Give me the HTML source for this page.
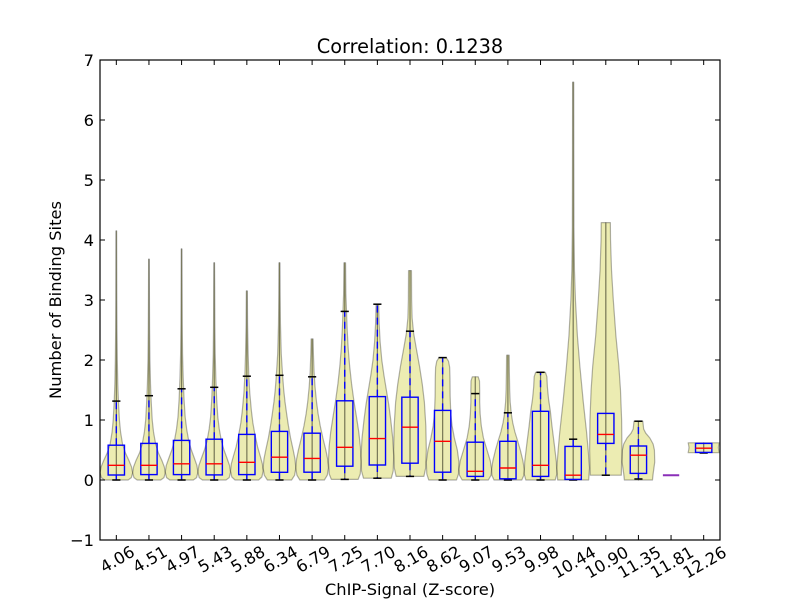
<!DOCTYPE html>
<html><head><meta charset="utf-8"><style>
html,body{margin:0;padding:0;background:#fff;}
svg{display:block;}
.v path{vector-effect:non-scaling-stroke;}
text{font-family:"DejaVu Sans","Liberation Sans",sans-serif;fill:#000;}
</style></head><body>
<svg width="800" height="600" viewBox="0 0 800 600" xmlns="http://www.w3.org/2000/svg">
<rect x="0" y="0" width="800" height="600" fill="#fff"/>

<!-- violins -->
<g class="v" fill="rgba(191,191,0,0.3)" stroke="rgba(0,0,0,0.3)" stroke-width="1.2" stroke-linejoin="round">
<path transform="translate(116.32,480) scale(16.32,-60)" d="M0,0 L.72,0 .92,.04 1,.12 .93,.22 .78,.32 .56,.45 .38,.6 .26,.8 .19,1 .13,1.3 .09,1.6 .06,2 .04,2.5 .03,3 .025,3.6 .02,4.15 0,4.15Z"/>
<path transform="translate(116.32,480) scale(-16.32,-60)" d="M0,0 L.72,0 .92,.04 1,.12 .93,.22 .78,.32 .56,.45 .38,.6 .26,.8 .19,1 .13,1.3 .09,1.6 .06,2 .04,2.5 .03,3 .025,3.6 .02,4.15 0,4.15Z"/>

<path transform="translate(148.95,480) scale(16.32,-60)" d="M0,0 L.72,0 .92,.04 1,.12 .94,.22 .8,.32 .58,.45 .41,.6 .28,.8 .2,1 .14,1.3 .095,1.6 .06,2 .04,2.5 .03,3 .02,3.68 0,3.68Z"/>
<path transform="translate(148.95,480) scale(-16.32,-60)" d="M0,0 L.72,0 .92,.04 1,.12 .94,.22 .8,.32 .58,.45 .41,.6 .28,.8 .2,1 .14,1.3 .095,1.6 .06,2 .04,2.5 .03,3 .02,3.68 0,3.68Z"/>

<path transform="translate(181.58,480) scale(16.32,-60)" d="M0,0 L.72,0 .92,.04 1,.13 .94,.24 .8,.35 .6,.5 .44,.65 .31,.85 .22,1.05 .15,1.35 .1,1.7 .06,2.1 .04,2.6 .03,3.2 .02,3.85 0,3.85Z"/>
<path transform="translate(181.58,480) scale(-16.32,-60)" d="M0,0 L.72,0 .92,.04 1,.13 .94,.24 .8,.35 .6,.5 .44,.65 .31,.85 .22,1.05 .15,1.35 .1,1.7 .06,2.1 .04,2.6 .03,3.2 .02,3.85 0,3.85Z"/>

<path transform="translate(214.21,480) scale(16.32,-60)" d="M0,0 L.72,0 .92,.04 1,.13 .94,.24 .8,.35 .6,.5 .44,.65 .31,.85 .22,1.05 .15,1.35 .1,1.7 .06,2.1 .04,2.6 .03,3.2 .02,3.62 0,3.62Z"/>
<path transform="translate(214.21,480) scale(-16.32,-60)" d="M0,0 L.72,0 .92,.04 1,.13 .94,.24 .8,.35 .6,.5 .44,.65 .31,.85 .22,1.05 .15,1.35 .1,1.7 .06,2.1 .04,2.6 .03,3.2 .02,3.62 0,3.62Z"/>

<path transform="translate(246.84,480) scale(16.32,-60)" d="M0,0 L.72,0 .92,.05 1,.15 .95,.27 .82,.4 .66,.55 .5,.75 .37,.95 .28,1.15 .18,1.45 .12,1.75 .08,2.1 .045,2.6 .03,3.15 0,3.15Z"/>
<path transform="translate(246.84,480) scale(-16.32,-60)" d="M0,0 L.72,0 .92,.05 1,.15 .95,.27 .82,.4 .66,.55 .5,.75 .37,.95 .28,1.15 .18,1.45 .12,1.75 .08,2.1 .045,2.6 .03,3.15 0,3.15Z"/>

<path transform="translate(279.47,480) scale(16.32,-60)" d="M0,0 L.74,0 .93,.08 1,.2 .95,.35 .84,.5 .68,.7 .55,.9 .44,1.1 .34,1.3 .26,1.5 .19,1.75 .11,2.1 .06,2.6 .04,3.1 .03,3.62 0,3.62Z"/>
<path transform="translate(279.47,480) scale(-16.32,-60)" d="M0,0 L.74,0 .93,.08 1,.2 .95,.35 .84,.5 .68,.7 .55,.9 .44,1.1 .34,1.3 .26,1.5 .19,1.75 .11,2.1 .06,2.6 .04,3.1 .03,3.62 0,3.62Z"/>

<path transform="translate(312.11,480) scale(16.32,-60)" d="M0,0 L.75,0 .93,.08 1,.2 .95,.35 .84,.5 .66,.7 .5,.9 .37,1.1 .27,1.3 .18,1.55 .12,1.8 .08,2.1 .06,2.35 0,2.35Z"/>
<path transform="translate(312.11,480) scale(-16.32,-60)" d="M0,0 L.75,0 .93,.08 1,.2 .95,.35 .84,.5 .66,.7 .5,.9 .37,1.1 .27,1.3 .18,1.55 .12,1.8 .08,2.1 .06,2.35 0,2.35Z"/>

<path transform="translate(344.74,480) scale(16.32,-60)" d="M0,.01 L.82,.01 .95,.1 1,.3 .96,.55 .86,.8 .72,1.05 .57,1.3 .42,1.6 .3,1.9 .21,2.2 .15,2.5 .11,2.8 .07,3.1 .05,3.62 0,3.62Z"/>
<path transform="translate(344.74,480) scale(-16.32,-60)" d="M0,.01 L.82,.01 .95,.1 1,.3 .96,.55 .86,.8 .72,1.05 .57,1.3 .42,1.6 .3,1.9 .21,2.2 .15,2.5 .11,2.8 .07,3.1 .05,3.62 0,3.62Z"/>

<path transform="translate(377.37,480) scale(16.32,-60)" d="M0,.03 L.85,.03 .97,.15 1,.4 .94,.7 .82,1 .7,1.25 .55,1.5 .4,1.75 .27,2 .17,2.3 .11,2.6 .08,2.93 0,2.93Z"/>
<path transform="translate(377.37,480) scale(-16.32,-60)" d="M0,.03 L.85,.03 .97,.15 1,.4 .94,.7 .82,1 .7,1.25 .55,1.5 .4,1.75 .27,2 .17,2.3 .11,2.6 .08,2.93 0,2.93Z"/>

<path transform="translate(410,480) scale(16.32,-60)" d="M0,.06 L.85,.06 .96,.2 1,.5 .97,.9 .88,1.3 .75,1.6 .58,1.9 .38,2.2 .22,2.45 .13,2.7 .1,3 .09,3.49 0,3.49Z"/>
<path transform="translate(410,480) scale(-16.32,-60)" d="M0,.06 L.85,.06 .96,.2 1,.5 .97,.9 .88,1.3 .75,1.6 .58,1.9 .38,2.2 .22,2.45 .13,2.7 .1,3 .09,3.49 0,3.49Z"/>

<path transform="translate(442.63,480) scale(16.32,-60)" d="M0,0 L.85,0 .97,.1 1,.3 .9,.5 .72,.7 .58,.9 .5,1.1 .46,1.4 .45,1.7 .43,1.88 .36,1.98 .22,2.04 0,2.04Z"/>
<path transform="translate(442.63,480) scale(-16.32,-60)" d="M0,0 L.85,0 .97,.1 1,.3 .9,.5 .72,.7 .58,.9 .5,1.1 .46,1.4 .45,1.7 .43,1.88 .36,1.98 .22,2.04 0,2.04Z"/>

<path transform="translate(475.26,480) scale(16.32,-60)" d="M0,0 L.8,0 .97,.08 1,.18 .92,.32 .72,.5 .5,.7 .37,.9 .3,1.1 .27,1.3 .27,1.5 .26,1.65 .18,1.72 0,1.72Z"/>
<path transform="translate(475.26,480) scale(-16.32,-60)" d="M0,0 L.8,0 .97,.08 1,.18 .92,.32 .72,.5 .5,.7 .37,.9 .3,1.1 .27,1.3 .27,1.5 .26,1.65 .18,1.72 0,1.72Z"/>

<path transform="translate(507.89,480) scale(16.32,-60)" d="M0,0 L.85,0 .98,.08 1,.18 .92,.32 .76,.5 .6,.65 .43,.8 .3,.95 .21,1.1 .14,1.3 .11,1.5 .09,1.8 .08,2.08 0,2.08Z"/>
<path transform="translate(507.89,480) scale(-16.32,-60)" d="M0,0 L.85,0 .98,.08 1,.18 .92,.32 .76,.5 .6,.65 .43,.8 .3,.95 .21,1.1 .14,1.3 .11,1.5 .09,1.8 .08,2.08 0,2.08Z"/>

<path transform="translate(540.53,480) scale(16.32,-60)" d="M0,0 L.9,0 1,.1 .97,.3 .84,.6 .7,.9 .6,1.15 .49,1.35 .42,1.55 .39,1.72 .3,1.795 0,1.795Z"/>
<path transform="translate(540.53,480) scale(-16.32,-60)" d="M0,0 L.9,0 1,.1 .97,.3 .84,.6 .7,.9 .6,1.15 .49,1.35 .42,1.55 .39,1.72 .3,1.795 0,1.795Z"/>

<path transform="translate(573.16,480) scale(16.32,-60)" d="M0,0 L.95,0 1,.2 .92,.5 .82,.8 .62,1.3 .41,1.9 .26,2.4 .14,3 .08,3.5 .05,4.2 .04,5.5 .035,6.63 0,6.63Z"/>
<path transform="translate(573.16,480) scale(-16.32,-60)" d="M0,0 L.95,0 1,.2 .92,.5 .82,.8 .62,1.3 .41,1.9 .26,2.4 .14,3 .08,3.5 .05,4.2 .04,5.5 .035,6.63 0,6.63Z"/>

<path transform="translate(605.79,480) scale(16.32,-60)" d="M0,.08 L.95,.08 .99,.5 .97,1 .9,1.5 .8,1.9 .62,2.4 .46,3 .35,3.5 .29,4 .28,4.29 0,4.29Z"/>
<path transform="translate(605.79,480) scale(-16.32,-60)" d="M0,.08 L.95,.08 .99,.5 .97,1 .9,1.5 .8,1.9 .62,2.4 .46,3 .35,3.5 .29,4 .28,4.29 0,4.29Z"/>

<path transform="translate(638.42,480) scale(16.32,-60)" d="M0,0 L.86,0 .9,.1 1,.3 .98,.5 .9,.6 .7,.7 .45,.78 .32,.85 .29,.93 .27,.98 0,.98Z"/>
<path transform="translate(638.42,480) scale(-16.32,-60)" d="M0,0 L.86,0 .9,.1 1,.3 .98,.5 .9,.6 .7,.7 .45,.78 .32,.85 .29,.93 .27,.98 0,.98Z"/>

<path transform="translate(703.68,480) scale(16.32,-60)" d="M0,.455 L.95,.455 .92,.5 .9,.54 .92,.58 .95,.62 0,.62Z"/>
<path transform="translate(703.68,480) scale(-16.32,-60)" d="M0,.455 L.95,.455 .92,.5 .9,.54 .92,.58 .95,.62 0,.62Z"/>
</g>

<!-- whiskers -->
<g stroke="#0000ff" stroke-width="1.4" stroke-dasharray="7,5" fill="none">
<line x1="116.32" y1="445.2" x2="116.32" y2="401.1"/><line x1="116.32" y1="475" x2="116.32" y2="480"/>
<line x1="148.95" y1="443.4" x2="148.95" y2="395.7"/><line x1="148.95" y1="474.6" x2="148.95" y2="480"/>
<line x1="181.58" y1="440.4" x2="181.58" y2="388.8"/><line x1="181.58" y1="474.6" x2="181.58" y2="480"/>
<line x1="214.21" y1="439.2" x2="214.21" y2="387.3"/><line x1="214.21" y1="474.9" x2="214.21" y2="480"/>
<line x1="246.84" y1="434.4" x2="246.84" y2="376.2"/><line x1="246.84" y1="474.6" x2="246.84" y2="480"/>
<line x1="279.47" y1="431.4" x2="279.47" y2="375.3"/><line x1="279.47" y1="472.3" x2="279.47" y2="480"/>
<line x1="312.11" y1="433.2" x2="312.11" y2="376.8"/><line x1="312.11" y1="472.2" x2="312.11" y2="480"/>
<line x1="344.74" y1="400.8" x2="344.74" y2="311.4"/><line x1="344.74" y1="466.2" x2="344.74" y2="479.4"/>
<line x1="377.37" y1="396.6" x2="377.37" y2="304.2"/><line x1="377.37" y1="465" x2="377.37" y2="478.2"/>
<line x1="410" y1="397.2" x2="410" y2="331.2"/><line x1="410" y1="463.2" x2="410" y2="476.4"/>
<line x1="442.63" y1="410.4" x2="442.63" y2="357.6"/><line x1="442.63" y1="472.2" x2="442.63" y2="480"/>
<line x1="475.26" y1="442.2" x2="475.26" y2="393.6"/><line x1="475.26" y1="476.4" x2="475.26" y2="480"/>
<line x1="507.89" y1="441.3" x2="507.89" y2="412.8"/><line x1="507.89" y1="478.8" x2="507.89" y2="480"/>
<line x1="540.53" y1="411.3" x2="540.53" y2="372.3"/><line x1="540.53" y1="476.4" x2="540.53" y2="480"/>
<line x1="573.16" y1="446.4" x2="573.16" y2="439.2"/>
<line x1="605.79" y1="443.4" x2="605.79" y2="475.2"/>
<line x1="638.42" y1="446" x2="638.42" y2="421.2"/><line x1="638.42" y1="473.4" x2="638.42" y2="479"/>
</g>

<!-- caps -->
<g stroke="#000" stroke-width="1.5">
<line x1="112.24" y1="401.1" x2="120.40" y2="401.1"/><line x1="112.24" y1="480" x2="120.40" y2="480"/>
<line x1="144.87" y1="395.7" x2="153.03" y2="395.7"/><line x1="144.87" y1="480" x2="153.03" y2="480"/>
<line x1="177.50" y1="388.8" x2="185.66" y2="388.8"/><line x1="177.50" y1="480" x2="185.66" y2="480"/>
<line x1="210.13" y1="387.3" x2="218.29" y2="387.3"/><line x1="210.13" y1="480" x2="218.29" y2="480"/>
<line x1="242.76" y1="376.2" x2="250.92" y2="376.2"/><line x1="242.76" y1="480" x2="250.92" y2="480"/>
<line x1="275.39" y1="375.3" x2="283.55" y2="375.3"/><line x1="275.39" y1="480" x2="283.55" y2="480"/>
<line x1="308.03" y1="376.8" x2="316.19" y2="376.8"/><line x1="308.03" y1="480" x2="316.19" y2="480"/>
<line x1="340.66" y1="311.4" x2="348.82" y2="311.4"/><line x1="340.66" y1="479.4" x2="348.82" y2="479.4"/>
<line x1="373.29" y1="304.2" x2="381.45" y2="304.2"/><line x1="373.29" y1="478.2" x2="381.45" y2="478.2"/>
<line x1="405.92" y1="331.2" x2="414.08" y2="331.2"/><line x1="405.92" y1="476.4" x2="414.08" y2="476.4"/>
<line x1="438.55" y1="357.6" x2="446.71" y2="357.6"/><line x1="438.55" y1="480" x2="446.71" y2="480"/>
<line x1="471.18" y1="393.6" x2="479.34" y2="393.6"/><line x1="471.18" y1="480" x2="479.34" y2="480"/>
<line x1="503.81" y1="412.8" x2="511.97" y2="412.8"/><line x1="503.81" y1="480" x2="511.97" y2="480"/>
<line x1="536.45" y1="372.3" x2="544.61" y2="372.3"/><line x1="536.45" y1="480" x2="544.61" y2="480"/>
<line x1="569.08" y1="439.2" x2="577.24" y2="439.2"/><line x1="569.08" y1="480" x2="577.24" y2="480"/>
<line x1="601.71" y1="475.2" x2="609.87" y2="475.2"/>
<line x1="634.34" y1="421.2" x2="642.50" y2="421.2"/><line x1="634.34" y1="479" x2="642.50" y2="479"/>
<line x1="699.60" y1="453.0" x2="707.76" y2="453.0"/>
</g>

<!-- boxes -->
<g stroke="#0000ff" stroke-width="1.4" fill="none">
<rect x="108.16" y="445.2" width="16.32" height="29.8"/>
<rect x="140.79" y="443.4" width="16.32" height="31.2"/>
<rect x="173.42" y="440.4" width="16.32" height="34.2"/>
<rect x="206.05" y="439.2" width="16.32" height="35.7"/>
<rect x="238.68" y="434.4" width="16.32" height="40.2"/>
<rect x="271.31" y="431.4" width="16.32" height="40.9"/>
<rect x="303.95" y="433.2" width="16.32" height="39.0"/>
<rect x="336.58" y="400.8" width="16.32" height="65.4"/>
<rect x="369.21" y="396.6" width="16.32" height="68.4"/>
<rect x="401.84" y="397.2" width="16.32" height="66.0"/>
<rect x="434.47" y="410.4" width="16.32" height="61.8"/>
<rect x="467.10" y="442.2" width="16.32" height="34.2"/>
<rect x="499.73" y="441.3" width="16.32" height="37.5"/>
<rect x="532.37" y="411.3" width="16.32" height="65.1"/>
<rect x="565.00" y="446.4" width="16.32" height="33.0"/>
<rect x="597.63" y="413.4" width="16.32" height="30.0"/>
<rect x="630.26" y="446.0" width="16.32" height="27.4"/>
<rect x="695.52" y="443.4" width="16.32" height="9.0"/>
</g>

<!-- medians -->
<g stroke="#ff0000" stroke-width="1.4">
<line x1="108.16" y1="465.3" x2="124.48" y2="465.3"/>
<line x1="140.79" y1="465.3" x2="157.11" y2="465.3"/>
<line x1="173.42" y1="463.8" x2="189.74" y2="463.8"/>
<line x1="206.05" y1="463.8" x2="222.37" y2="463.8"/>
<line x1="238.68" y1="462.3" x2="255.00" y2="462.3"/>
<line x1="271.31" y1="457.2" x2="287.63" y2="457.2"/>
<line x1="303.95" y1="458.4" x2="320.27" y2="458.4"/>
<line x1="336.58" y1="447.3" x2="352.90" y2="447.3"/>
<line x1="369.21" y1="438.6" x2="385.53" y2="438.6"/>
<line x1="401.84" y1="427.2" x2="418.16" y2="427.2"/>
<line x1="434.47" y1="441.3" x2="450.79" y2="441.3"/>
<line x1="467.10" y1="471.3" x2="483.42" y2="471.3"/>
<line x1="499.73" y1="468.0" x2="516.05" y2="468.0"/>
<line x1="532.37" y1="465.3" x2="548.69" y2="465.3"/>
<line x1="565.00" y1="475.2" x2="581.32" y2="475.2"/>
<line x1="597.63" y1="434.4" x2="613.95" y2="434.4"/>
<line x1="630.26" y1="455.2" x2="646.58" y2="455.2"/>
<line x1="695.52" y1="448.2" x2="711.84" y2="448.2"/>
</g>
<line x1="662.89" y1="475.2" x2="679.21" y2="475.2" stroke="#8a2fb8" stroke-width="2"/>

<!-- axes frame -->
<rect x="100" y="60" width="620" height="480" fill="none" stroke="#000" stroke-width="1.2"/>

<!-- ticks -->
<g stroke="#000" stroke-width="1">
<line x1="100" y1="60" x2="105" y2="60"/><line x1="720" y1="60" x2="715" y2="60"/>
<line x1="100" y1="120" x2="105" y2="120"/><line x1="720" y1="120" x2="715" y2="120"/>
<line x1="100" y1="180" x2="105" y2="180"/><line x1="720" y1="180" x2="715" y2="180"/>
<line x1="100" y1="240" x2="105" y2="240"/><line x1="720" y1="240" x2="715" y2="240"/>
<line x1="100" y1="300" x2="105" y2="300"/><line x1="720" y1="300" x2="715" y2="300"/>
<line x1="100" y1="360" x2="105" y2="360"/><line x1="720" y1="360" x2="715" y2="360"/>
<line x1="100" y1="420" x2="105" y2="420"/><line x1="720" y1="420" x2="715" y2="420"/>
<line x1="100" y1="480" x2="105" y2="480"/><line x1="720" y1="480" x2="715" y2="480"/>
<line x1="100" y1="540" x2="105" y2="540"/><line x1="720" y1="540" x2="715" y2="540"/>

<line x1="116.32" y1="540" x2="116.32" y2="535"/><line x1="116.32" y1="60" x2="116.32" y2="65"/>
<line x1="148.95" y1="540" x2="148.95" y2="535"/><line x1="148.95" y1="60" x2="148.95" y2="65"/>
<line x1="181.58" y1="540" x2="181.58" y2="535"/><line x1="181.58" y1="60" x2="181.58" y2="65"/>
<line x1="214.21" y1="540" x2="214.21" y2="535"/><line x1="214.21" y1="60" x2="214.21" y2="65"/>
<line x1="246.84" y1="540" x2="246.84" y2="535"/><line x1="246.84" y1="60" x2="246.84" y2="65"/>
<line x1="279.47" y1="540" x2="279.47" y2="535"/><line x1="279.47" y1="60" x2="279.47" y2="65"/>
<line x1="312.11" y1="540" x2="312.11" y2="535"/><line x1="312.11" y1="60" x2="312.11" y2="65"/>
<line x1="344.74" y1="540" x2="344.74" y2="535"/><line x1="344.74" y1="60" x2="344.74" y2="65"/>
<line x1="377.37" y1="540" x2="377.37" y2="535"/><line x1="377.37" y1="60" x2="377.37" y2="65"/>
<line x1="410" y1="540" x2="410" y2="535"/><line x1="410" y1="60" x2="410" y2="65"/>
<line x1="442.63" y1="540" x2="442.63" y2="535"/><line x1="442.63" y1="60" x2="442.63" y2="65"/>
<line x1="475.26" y1="540" x2="475.26" y2="535"/><line x1="475.26" y1="60" x2="475.26" y2="65"/>
<line x1="507.89" y1="540" x2="507.89" y2="535"/><line x1="507.89" y1="60" x2="507.89" y2="65"/>
<line x1="540.53" y1="540" x2="540.53" y2="535"/><line x1="540.53" y1="60" x2="540.53" y2="65"/>
<line x1="573.16" y1="540" x2="573.16" y2="535"/><line x1="573.16" y1="60" x2="573.16" y2="65"/>
<line x1="605.79" y1="540" x2="605.79" y2="535"/><line x1="605.79" y1="60" x2="605.79" y2="65"/>
<line x1="638.42" y1="540" x2="638.42" y2="535"/><line x1="638.42" y1="60" x2="638.42" y2="65"/>
<line x1="671.05" y1="540" x2="671.05" y2="535"/><line x1="671.05" y1="60" x2="671.05" y2="65"/>
<line x1="703.68" y1="540" x2="703.68" y2="535"/><line x1="703.68" y1="60" x2="703.68" y2="65"/>
</g>

<!-- y tick labels -->
<g font-size="16.3" text-anchor="end">
<text x="94" y="66">7</text>
<text x="94" y="126">6</text>
<text x="94" y="186">5</text>
<text x="94" y="246">4</text>
<text x="94" y="306">3</text>
<text x="94" y="366">2</text>
<text x="94" y="426">1</text>
<text x="94" y="486">0</text>
<text x="94" y="546">−1</text>
</g>

<!-- x tick labels -->
<g font-size="16.3" text-anchor="middle">
<text transform="translate(117.1,559) rotate(-30)" y="6">4.06</text>
<text transform="translate(149.75,559) rotate(-30)" y="6">4.51</text>
<text transform="translate(182.4,559) rotate(-30)" y="6">4.97</text>
<text transform="translate(215.0,559) rotate(-30)" y="6">5.43</text>
<text transform="translate(247.65,559) rotate(-30)" y="6">5.88</text>
<text transform="translate(280.3,559) rotate(-30)" y="6">6.34</text>
<text transform="translate(312.9,559) rotate(-30)" y="6">6.79</text>
<text transform="translate(345.55,559) rotate(-30)" y="6">7.25</text>
<text transform="translate(378.2,559) rotate(-30)" y="6">7.70</text>
<text transform="translate(410.8,559) rotate(-30)" y="6">8.16</text>
<text transform="translate(443.45,559) rotate(-30)" y="6">8.62</text>
<text transform="translate(476.05,559) rotate(-30)" y="6">9.07</text>
<text transform="translate(508.7,559) rotate(-30)" y="6">9.53</text>
<text transform="translate(541.35,559) rotate(-30)" y="6">9.98</text>
<text transform="translate(573.95,562) rotate(-30)" y="6">10.44</text>
<text transform="translate(606.6,562) rotate(-30)" y="6">10.90</text>
<text transform="translate(639.2,562) rotate(-30)" y="6">11.35</text>
<text transform="translate(671.85,562) rotate(-30)" y="6">11.81</text>
<text transform="translate(704.5,562) rotate(-30)" y="6">12.26</text>
</g>

<!-- axis labels & title -->
<text x="410" y="595" font-size="16.3" text-anchor="middle">ChIP-Signal (Z-score)</text>
<text transform="translate(61,300) rotate(-90)" font-size="16.3" text-anchor="middle">Number of Binding Sites</text>
<text x="410" y="53" font-size="19.3" text-anchor="middle">Correlation: 0.1238</text>
</svg>
</body></html>
